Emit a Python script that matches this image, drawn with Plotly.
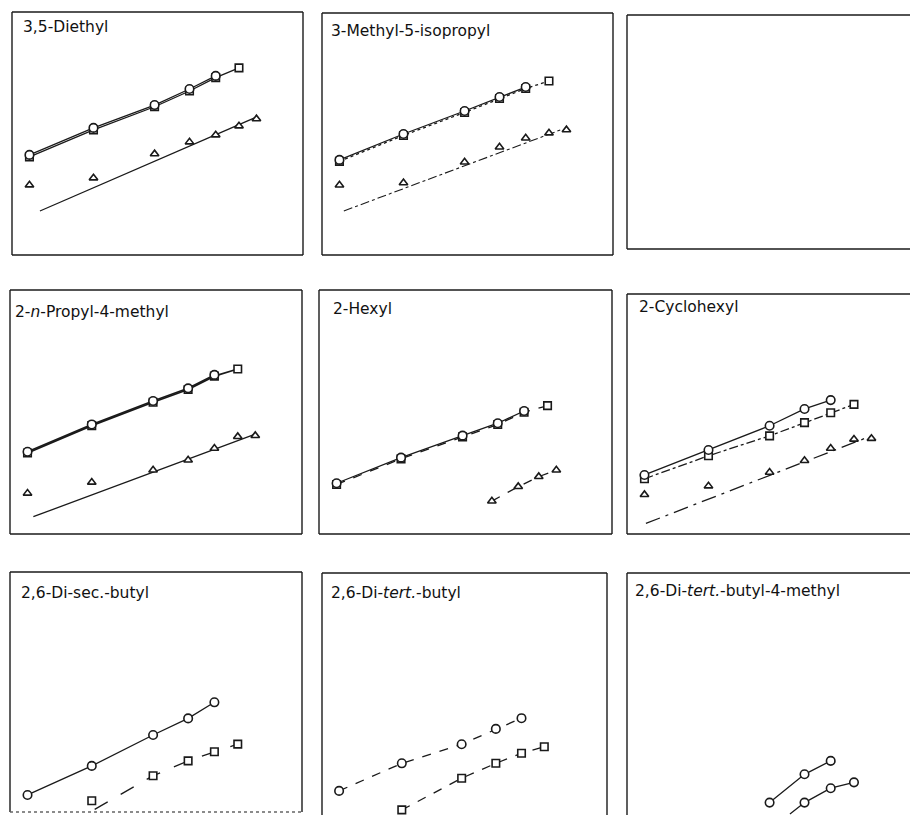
import plotly.graph_objects as go

W, H = 910, 815

# common abscissa positions (7 measurement temperatures, arbitrary units 0-100)
X = [6, 28, 49, 61, 70, 78, 84]

titles = ["3,5-Diethyl", "3-Methyl-5-isopropyl", "",
          "2-<i>n</i>-Propyl-4-methyl", "2-Hexyl", "2-Cyclohexyl",
          "2,6-Di-sec.-butyl", "2,6-Di-<i>tert.</i>-butyl",
          "2,6-Di-<i>tert.</i>-butyl-4-methyl"]

# ---- panel 1: 3,5-Diethyl
p1_circ = [41.2, 52.3, 61.7, 68.3, 73.7]
p1_sq = [40.4, 51.5, 61.0, 67.5, 73.0, 77.0]
p1_tri = [28.8, 31.7, 41.6, 46.5, 49.4, 53.1, 56.0]
p1_fit_x = [9.6, 84]
p1_fit_y = [18.1, 56.8]

# ---- panel 2: 3-Methyl-5-isopropyl
p2_circ = [39.3, 50.0, 59.5, 65.3, 69.4]
p2_sq = [38.7, 49.4, 58.9, 64.7, 68.8, 71.9]
p2_tri = [28.9, 29.8, 38.4, 44.6, 48.3, 50.4, 51.7]
p2_fit_x = [7.5, 82]
p2_fit_y = [18.2, 51.7]

# ---- panel 4: 2-n-Propyl-4-methyl
p4_circ = [33.7, 44.9, 54.5, 59.7, 65.2]
p4_sq = [33.2, 44.4, 54.0, 59.2, 64.7, 67.6]
p4_tri = [16.7, 21.2, 26.2, 30.3, 35.1, 39.9, 40.3]
p4_fit_x = [8, 84]
p4_fit_y = [7.1, 40.9]

# ---- panel 5: 2-Hexyl
p5_circ = [20.8, 31.3, 40.3, 45.4, 50.4]
p5_sq = [20.3, 30.8, 39.8, 44.9, 49.9, 52.6]
p5_tri_x = [59, 68, 75, 81]
p5_tri = [13.5, 19.4, 23.5, 26.2]

# ---- panel 6: 2-Cyclohexyl
p6_circ = [24.6, 35.0, 45.1, 52.1, 55.8]
p6_sq = [23.0, 32.6, 40.9, 46.4, 50.5, 54.0]
p6_tri = [16.4, 20.0, 25.7, 30.6, 35.7, 39.5, 39.8]
p6_fit_x = [6.5, 84]
p6_fit_y = [4.4, 40.9]

# ---- panel 7: 2,6-Di-sec.-butyl
p7_circ = [7.1, 19.2, 32.1, 39.0, 45.7]
p7_sq_x = [28, 49, 61, 70, 78]
p7_sq = [4.7, 15.1, 21.3, 25.1, 28.3]
p7_line_x = [29, 49, 61, 70, 78]
p7_line_y = [1.1, 15.1, 21.3, 25.1, 28.3]

# ---- panel 8: 2,6-Di-tert.-butyl
p8_circ = [10.7, 22.0, 29.8, 36.1, 40.5]
p8_sq_x = [28, 49, 61, 70, 78]
p8_sq = [2.9, 15.9, 22.0, 26.1, 28.8]

# ---- panel 9: 2,6-Di-tert.-butyl-4-methyl
p9_circ_x = [49, 61, 70]
p9_circ = [5.9, 17.5, 23.0]
p9_sq_x = [61, 70, 78]
p9_sq = [5.9, 11.8, 14.2]
p9_line_x = [56, 61, 70, 78]
p9_line_y = [1.2, 5.9, 11.8, 14.2]

# panel boxes in pixels: left, top, right, bottom (some run past the page edge)
boxes = [
    (12, 12, 303, 255), (322, 13, 613, 255), (627, 15, 918, 249),
    (10, 290, 302, 534), (319, 290, 612, 534), (627, 294, 918, 534),
    (10, 572, 302, 812), (322, 573, 607, 817), (627, 573, 918, 817),
]
title_pos = [(21, 16), (329, 20), None, (13, 301), (331, 298), (637, 296),
             (19, 582), (329, 582), (633, 580)]

fig = go.Figure()
INK = "#1a1a1a"


def add(i, x, y, mode, symbol=None, size=8, dash="solid", width=1.3):
    ax = "" if i == 0 else str(i + 1)
    kw = dict(x=x, y=y, mode=mode, xaxis="x" + ax, yaxis="y" + ax,
              showlegend=False, hoverinfo="skip",
              line=dict(color=INK, width=width, dash=dash))
    if symbol:
        kw["marker"] = dict(symbol=symbol, size=size, color="white",
                            line=dict(color=INK, width=1.6))
    fig.add_trace(go.Scatter(**kw))


# panel 1
add(0, X[:6], p1_sq, "lines+markers", "square", 7.5)
add(0, X[:5], p1_circ, "lines+markers", "circle", 8.5)
add(0, p1_fit_x, p1_fit_y, "lines")
add(0, X, p1_tri, "markers", "triangle-up", 7.5)
# panel 2
add(1, X[:6], p2_sq, "lines+markers", "square", 7.5, "dot")
add(1, X[:5], p2_circ, "lines+markers", "circle", 8.5)
add(1, p2_fit_x, p2_fit_y, "lines", dash="dashdot", width=1.1)
add(1, X, p2_tri, "markers", "triangle-up", 7.5)
# panel 4
add(3, X[:6], p4_sq, "lines+markers", "square", 7.5, width=1.7)
add(3, X[:5], p4_circ, "lines+markers", "circle", 8.5, width=1.7)
add(3, p4_fit_x, p4_fit_y, "lines")
add(3, X, p4_tri, "markers", "triangle-up", 7.5)
# panel 5
add(4, X[:6], p5_sq, "lines+markers", "square", 7.5, "dash")
add(4, X[:5], p5_circ, "lines+markers", "circle", 8.5)
add(4, p5_tri_x, p5_tri, "lines+markers", "triangle-up", 7.5, "dash")
# panel 6
add(5, X[:6], p6_sq, "lines+markers", "square", 7.5, "dashdot")
add(5, X[:5], p6_circ, "lines+markers", "circle", 8.5)
add(5, p6_fit_x, p6_fit_y, "lines", dash="longdashdot")
add(5, X, p6_tri, "markers", "triangle-up", 7.5)
# panel 7
add(6, X[:5], p7_circ, "lines+markers", "circle", 8.5)
add(6, p7_line_x, p7_line_y, "lines", dash="longdash")
add(6, p7_sq_x, p7_sq, "markers", "square", 7.5)
# panel 8
add(7, X[:5], p8_circ, "lines+markers", "circle", 8.5, "dash")
add(7, p8_sq_x, p8_sq, "lines+markers", "square", 7.5, "dash")
# panel 9
add(8, p9_circ_x, p9_circ, "lines+markers", "circle", 8.5)
add(8, p9_line_x, p9_line_y, "lines")
add(8, p9_sq_x, p9_sq, "markers", "circle", 8.5)

layout = dict(width=W, height=H, margin=dict(l=0, r=0, t=0, b=0),
              paper_bgcolor="white", plot_bgcolor="rgba(0,0,0,0)",
              showlegend=False)
shapes = []
annotations = []
for i, (l, t, r, b) in enumerate(boxes):
    ax = "" if i == 0 else str(i + 1)
    vl, vr = max(l, 0), min(r, W)
    vt, vb = max(t, 0), min(b, H)
    xr = [100 * (vl - l) / (r - l), 100 * (vr - l) / (r - l)]
    yr = [100 * (b - vb) / (b - t), 100 * (b - vt) / (b - t)]
    common = dict(showgrid=False, zeroline=False, showticklabels=False,
                  showline=False, ticks="", fixedrange=True)
    layout["xaxis" + ax] = dict(domain=[vl / W, vr / W], range=xr,
                                anchor="y" + ax, **common)
    layout["yaxis" + ax] = dict(domain=[1 - vb / H, 1 - vt / H], range=yr,
                                anchor="x" + ax, **common)
    # frame
    edges = [(l, t, r, t), (l, t, l, b), (r, t, r, b)]
    for (x0, y0, x1, y1) in edges:
        shapes.append(dict(type="line", xref="paper", yref="paper",
                           x0=x0 / W, x1=x1 / W, y0=1 - y0 / H, y1=1 - y1 / H,
                           line=dict(color=INK, width=1.4)))
    shapes.append(dict(type="line", xref="paper", yref="paper",
                       x0=l / W, x1=r / W, y0=1 - b / H, y1=1 - b / H,
                       line=dict(color=INK if b < 800 else "#666",
                                 width=1.4, dash="solid" if b < 800 else "dot")))
    if titles[i]:
        tx, ty = title_pos[i]
        annotations.append(dict(text=titles[i], xref="paper", yref="paper",
                                x=tx / W, y=1 - ty / H, xanchor="left",
                                yanchor="top", showarrow=False,
                                font=dict(family="DejaVu Sans", size=15.5,
                                          color="#111")))
layout["shapes"] = shapes
layout["annotations"] = annotations
fig.update_layout(**layout)
fig.write_html("out.html", config={"displayModeBar": False},
               post_script="document.body.style.margin='0';"
                           "document.body.style.overflow='hidden';")
